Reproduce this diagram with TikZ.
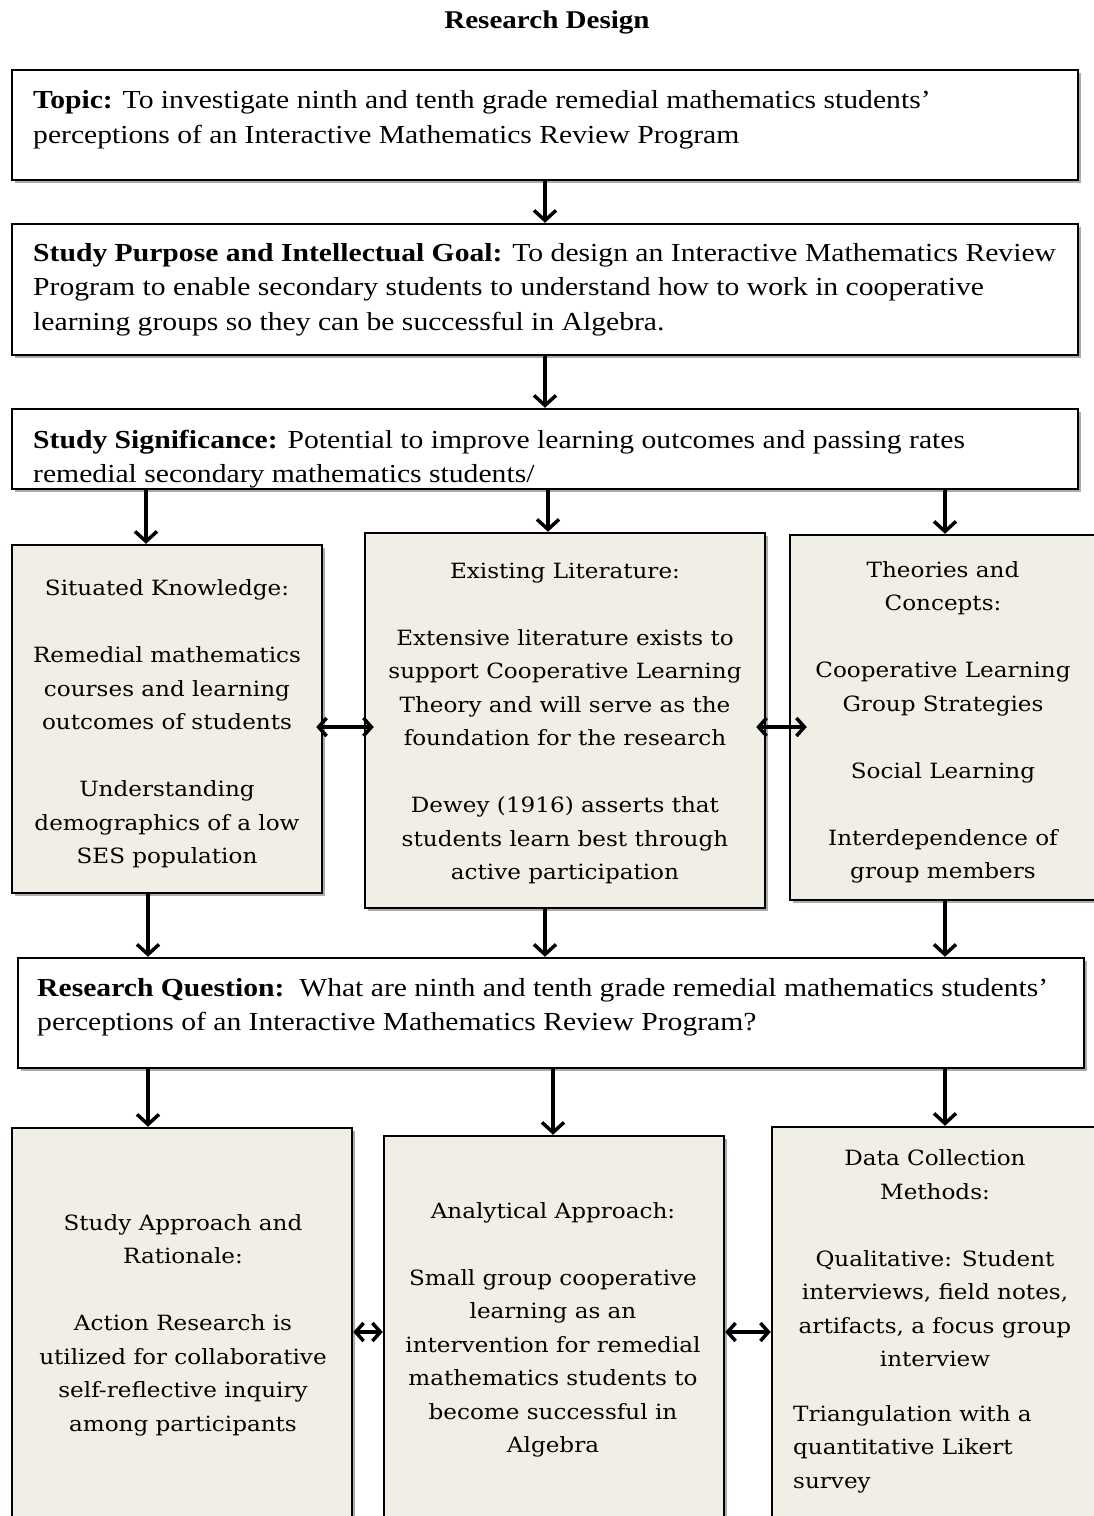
\documentclass[tikz,border=0pt]{standalone}
\usepackage{fontspec}
\setmainfont{Liberation Serif}[FakeStretch=1.14]
\newfontfamily\beigefont{DejaVu Serif}[FakeStretch=1.1]
\usetikzlibrary{arrows.meta,shadows}
\definecolor{beige}{RGB}{241,238,230}
\tikzset{
  topbox/.style={draw=black, line width=2.5pt, fill=white, rectangle, inner sep=0pt,
    drop shadow={shadow xshift=3pt, shadow yshift=-3pt, fill=black!55, opacity=0.6}},
  bbox/.style={topbox, fill=beige},
  toptext/.style={anchor=west, align=left, inner sep=0pt, font=\fontsize{26}{34.5}\selectfont},
  btext/.style={align=center, inner sep=0pt, font=\beigefont\fontsize{21}{33.5}\selectfont},
  ltext/.style={anchor=west, align=left, inner sep=0pt, font=\beigefont\fontsize{21}{33.5}\selectfont},
  arr/.style={line width=3.5pt, -{Straight Barb[length=10pt,width=22pt]}},
  darr/.style={line width=3.5pt, {Straight Barb[length=8pt,width=18pt]}-{Straight Barb[length=8pt,width=18pt]}}
}
\begin{document}
\begin{tikzpicture}[x=1pt,y=-1pt]
\useasboundingbox (0,0) rectangle (1094,1516);
\clip (0,0) rectangle (1094,1516);
\fill[white] (0,0) rectangle (1094,1516);

\node[font=\bfseries\fontsize{25.5}{28}\selectfont, inner sep=0pt] (title) at (547,22) {Research Design};

% boxes
\node[topbox, minimum width=1066pt, minimum height=110pt] (topic) at (545,125) {};
\node[topbox, minimum width=1066pt, minimum height=131pt] (purpose) at (545,289.5) {};
\node[topbox, minimum width=1066pt, minimum height=80pt] (sig) at (545,449) {};
\node[bbox, minimum width=310pt, minimum height=348pt] (sk) at (167,719) {};
\node[bbox, minimum width=400pt, minimum height=375pt] (el) at (565,720.5) {};
\node[bbox, minimum width=310pt, minimum height=365pt] (th) at (945,717.5) {};
\node[topbox, minimum width=1066pt, minimum height=110pt] (rq) at (551,1013) {};
\node[bbox, minimum width=340pt, minimum height=402pt] (sa) at (182,1329) {};
\node[bbox, minimum width=340pt, minimum height=394pt] (an) at (554,1333) {};
\node[bbox, minimum width=328pt, minimum height=403pt] (dc) at (936,1328.5) {};

% texts
\node[toptext] (ttopic) at (33,120) {\textbf{Topic:} To investigate ninth and tenth grade remedial mathematics students’\\perceptions of an Interactive Mathematics Review Program};
\node[toptext] (tpurpose) at (33,289.5) {\textbf{Study Purpose and Intellectual Goal:} To design an Interactive Mathematics Review\\Program to enable secondary students to understand how to work in cooperative\\learning groups so they can be successful in Algebra.};
\node[toptext] (tsig) at (33,459) {\textbf{Study Significance:} Potential to improve learning outcomes and passing rates\\remedial secondary mathematics students/};
\node[toptext] (trq) at (37,1007.5) {\textbf{Research Question:}\ \ What are ninth and tenth grade remedial mathematics students’\\perceptions of an Interactive Mathematics Review Program?};

\node[btext] (tsk) at (167,724) {Situated Knowledge:\\[33.5pt]Remedial mathematics\\courses and learning\\outcomes of students\\[33.5pt]Understanding\\demographics of a low\\SES population};
\node[btext] (tel) at (565,723.5) {Existing Literature:\\[33.5pt]Extensive literature exists to\\support Cooperative Learning\\Theory and will serve as the\\foundation for the research\\[33.5pt]Dewey (1916) asserts that\\students learn best through\\active participation};
\node[btext] (tth) at (943,722.5) {Theories and\\Concepts:\\[33.5pt]Cooperative Learning\\Group Strategies\\[33.5pt]Social Learning\\[33.5pt]Interdependence of\\group members};
\node[btext] (tsa) at (183,1325) {Study Approach and\\Rationale:\\[33.5pt]Action Research is\\utilized for collaborative\\self-reflective inquiry\\among participants};
\node[btext] (tan) at (553,1330) {Analytical Approach:\\[33.5pt]Small group cooperative\\learning as an\\intervention for remedial\\mathematics students to\\become successful in\\Algebra};
\node[btext] (tdc) at (935,1258.5) {Data Collection\\Methods:\\[33.5pt]Qualitative: Student\\interviews, field notes,\\artifacts, a focus group\\interview};
\node[ltext] (tdc2) at (793,1449) {Triangulation with a\\quantitative Likert\\survey};

% connectors
\draw[arr] (topic.south) -- (purpose.north);
\draw[arr] (purpose.south) -- (sig.north);
\draw[arr] (sig.south -| 146,0) -- (sk.north -| 146,0);
\draw[arr] (sig.south -| 548,0) -- (el.north -| 548,0);
\draw[arr] (sig.south -| 945,0) -- (th.north -| 945,0);
\draw[darr, shorten <=-7pt, shorten >=-10pt] (sk.east |- 0,727) -- (el.west |- 0,727);
\draw[darr, shorten <=-10pt, shorten >=-18pt] (el.east |- 0,727) -- (th.west |- 0,727);
\draw[arr] (sk.south -| 148,0) -- (rq.north -| 148,0);
\draw[arr] (el.south -| 545,0) -- (rq.north -| 545,0);
\draw[arr] (th.south -| 945,0) -- (rq.north -| 945,0);
\draw[arr] (rq.south -| 148,0) -- (sa.north -| 148,0);
\draw[arr] (rq.south -| 553,0) -- (an.north -| 553,0);
\draw[arr] (rq.south -| 945,0) -- (dc.north -| 945,0);
\draw[darr] (sa.east |- 0,1332) -- (an.west |- 0,1332);
\draw[darr] (an.east |- 0,1332) -- (dc.west |- 0,1332);
\end{tikzpicture}
\end{document}
